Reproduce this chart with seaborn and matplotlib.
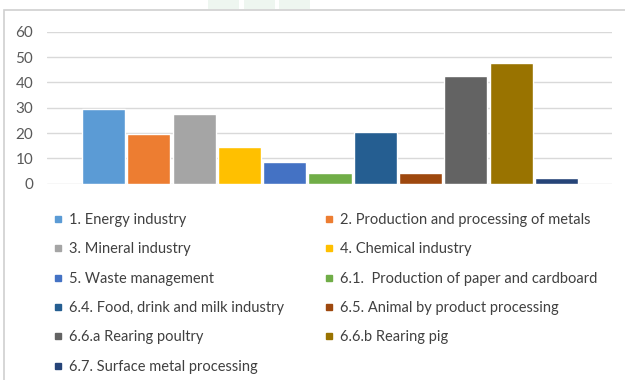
import matplotlib
matplotlib.use("Agg")
import matplotlib.pyplot as plt
from matplotlib.lines import Line2D
from matplotlib.patches import Rectangle
import seaborn as sns
import pandas as pd

categories = [
    "1. Energy industry",
    "2. Production and processing of metals",
    "3. Mineral industry",
    "4. Chemical industry",
    "5. Waste management",
    "6.1.  Production of paper and cardboard",
    "6.4. Food, drink and milk industry",
    "6.5. Animal by product processing",
    "6.6.a Rearing poultry",
    "6.6.b Rearing pig",
    "6.7. Surface metal processing",
]
values = [29.5, 19.5, 27.5, 14.5, 8.5, 4.3, 20.5, 4.3, 42.6, 47.7, 2.3]
colors = ["#5B9BD5", "#ED7D31", "#A5A5A5", "#FFC000", "#4472C4", "#70AD47",
          "#255E91", "#9E480E", "#636363", "#997300", "#264478"]
yticks = [0, 10, 20, 30, 40, 50, 60]

sns.set_theme(style="white")
plt.rcParams["font.family"] = ["Lato", "DejaVu Sans"]

df = pd.DataFrame({"cat": categories, "val": values})

fig = plt.figure(figsize=(6.25, 3.8), dpi=100)
ax = fig.add_axes([47 / 625, (380 - 183.7) / 380, (612 - 47) / 625, (183.7 - 31.7) / 380])

sns.barplot(data=df, x="cat", y="val", hue="cat", palette=colors, order=categories,
            hue_order=categories, width=0.95, legend=False, ax=ax,
            edgecolor="white", linewidth=1.0, saturation=1)

ax.set_xlim(-1.247, 11.225)
ax.set_ylim(0, 60)
ax.set_yticks(yticks)
ax.set_yticklabels([str(t) for t in yticks], color="#595959", fontsize=11)
ax.set_xticks([])
ax.set_xlabel("")
ax.set_ylabel("")
ax.yaxis.grid(True, color="#D9D9D9", linewidth=1.0)
ax.set_axisbelow(True)
for s in ax.spines.values():
    s.set_visible(False)
ax.tick_params(axis="y", length=0, pad=10)

# outer chart frame
fig.patches.append(Rectangle((4.4 / 625, -0.05), 1.0, (380 - 10) / 380 + 0.05,
                             transform=fig.transFigure, fill=False,
                             edgecolor="#D0D0D0", linewidth=1.2))
# faint boxes at the top
for x0, x1 in [(208, 239), (243.5, 275), (279, 310)]:
    fig.patches.append(Rectangle((x0 / 625, (380 - 9) / 380), (x1 - x0) / 625, 9 / 380,
                                 transform=fig.transFigure, facecolor="#EEF6F0",
                                 edgecolor="none"))

handles = [Line2D([0], [0], marker="s", linestyle="none", markersize=5,
                  markerfacecolor=c, markeredgecolor=c) for c in colors]
order = [0, 2, 4, 6, 8, 10, 1, 3, 5, 7, 9]
fig.legend([handles[i] for i in order], [categories[i] for i in order],
           ncol=2, loc="upper left", bbox_to_anchor=(40 / 625, (380 - 200) / 380),
           frameon=False, fontsize=10.5, labelcolor="#404040",
           handlelength=0.6, handletextpad=0.5, columnspacing=2.75,
           labelspacing=1.05)

fig.savefig("out.png", dpi=100)
